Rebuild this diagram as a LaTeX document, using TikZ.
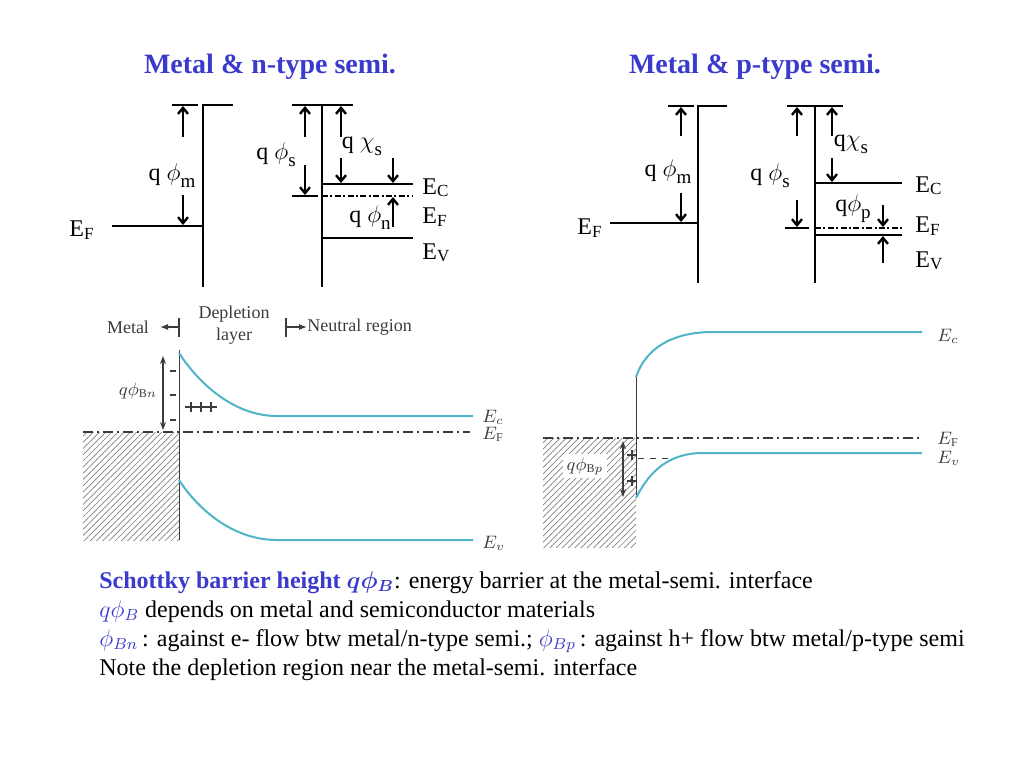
\documentclass[tikz,border=0pt]{standalone}
\usepackage{fontspec}
\setmainfont{Liberation Serif}
\usetikzlibrary{arrows.meta,patterns.meta}
\definecolor{tblue}{RGB}{58,58,205}
\definecolor{bandteal}{RGB}{78,180,200}
\definecolor{dgray}{RGB}{60,60,60}
\newcommand\dsub[1]{\raisebox{-3.5pt}{\fontsize{9.5}{9.5}\selectfont #1}}
\newcommand\Elab[1]{E\raisebox{-1.2pt}{\fontsize{8.5}{8.5}\selectfont #1}}
\begin{document}
\begin{tikzpicture}[x=0.5pt,y=-0.5pt,
  band/.style={line width=1.4pt},
  dashdotband/.style={line width=1.4pt,dash pattern=on 3pt off 1.2pt on 1pt off 1.2pt},
  barr/.style={line width=1.2pt,-{Straight Barb[length=3pt,width=5pt]}},
  lab/.style={font=\fontsize{12}{14}\selectfont,inner sep=0pt},
  title/.style={font=\fontsize{14}{16}\selectfont\bfseries,text=tblue,inner sep=0pt},
  bandcurve/.style={bandteal,line width=1pt},
  efline/.style={dgray,line width=0.6pt,dash pattern=on 5pt off 2pt on 1pt off 2pt},
  iface/.style={dgray,line width=0.5pt},
  darr/.style={dgray,line width=0.6pt,{Stealth[length=4pt,width=3pt]}-{Stealth[length=4pt,width=3pt]}},
  blab/.style={font=\fontsize{9}{11}\selectfont,text=dgray,inner sep=0pt},
  hatch/.style={pattern={Lines[angle=45,distance=2.2pt,line width=0.35pt]},pattern color=gray},
  txt/.style={font=\fontsize{12}{14}\selectfont,anchor=base west,inner sep=0pt}]
\useasboundingbox (0,0) rectangle (1024,768);

% titles
\node[title] (t1) at (270,67) {Metal \& n-type semi.};
\node[title] (t2) at (755,67) {Metal \& p-type semi.};

% ---------- top left: metal & n-type ----------
\draw[band] (233,105) -- (203,105) -- (203,287);
\draw[band] (172,105) -- (198,105);
\draw[band] (112,226) -- (203,226);
\draw[barr] (183,137) -- (183,106);
\draw[barr] (183,195) -- (183,225);
\node[lab] (qphim1) at (172,176) {q $\phi$\dsub{m}};
\node[lab,anchor=west] (ef1) at (69,230) {\Elab{F}};

\draw[band] (322,105) -- (322,287);
\draw[band] (292,105) -- (353,105);
\draw[band] (322,184) -- (413,184);
\draw[dashdotband] (322,196) -- (413,196);
\draw[band] (322,238) -- (413,238);
\draw[band] (292,196) -- (318,196);
\draw[barr] (305,137) -- (305,106);
\draw[barr] (305,165) -- (305,195);
\draw[barr] (341,137) -- (341,106);
\draw[barr] (341,158) -- (341,183);
\draw[barr] (393,158) -- (393,183);
\draw[barr] (393,227) -- (393,197);
\node[lab] (qphis1) at (276,155) {q $\phi$\dsub{s}};
\node[lab] (qchi1) at (362,146) {q $\chi$\dsub{s}};
\node[lab] (qphin1) at (370,218) {q $\phi$\dsub{n}};
\node[lab,anchor=west] (ec1) at (422,188) {\Elab{C}};
\node[lab,anchor=west] (efr1) at (422,217) {\Elab{F}};
\node[lab,anchor=west] (ev1) at (422,253) {\Elab{V}};

% ---------- top right: metal & p-type ----------
\draw[band] (727,106) -- (698,106) -- (698,283);
\draw[band] (668,106) -- (694,106);
\draw[band] (610,223) -- (698,223);
\draw[barr] (681,136) -- (681,107);
\draw[barr] (681,193) -- (681,222);
\node[lab] (qphim2) at (668,172) {q $\phi$\dsub{m}};
\node[lab,anchor=west] (ef2) at (577,228) {\Elab{F}};

\draw[band] (815,106) -- (815,283);
\draw[band] (787,106) -- (843,106);
\draw[band] (815,183) -- (902,183);
\draw[dashdotband] (815,228) -- (902,228);
\draw[band] (815,235) -- (902,235);
\draw[band] (785,228) -- (809,228);
\draw[barr] (797,136) -- (797,107);
\draw[barr] (797,200) -- (797,227);
\draw[barr] (832,136) -- (832,107);
\draw[barr] (832,158) -- (832,182);
\draw[barr] (883,205) -- (883,227);
\draw[barr] (883,263) -- (883,236);
\node[lab] (qphis2) at (770,176) {q $\phi$\dsub{s}};
\node[lab] (qchi2) at (851,144) {q$\chi$\dsub{s}};
\node[lab] (qphip2) at (853,209) {q$\phi$\dsub{p}};
\node[lab,anchor=west] (ec2) at (915,186) {\Elab{C}};
\node[lab,anchor=west] (efr2) at (915,226) {\Elab{F}};
\node[lab,anchor=west] (ev2) at (915,261) {\Elab{V}};

% ---------- bottom left ----------
\fill[hatch] (83,432) rectangle (179,540);
\draw[iface] (179,350) -- (179,540);
\draw[efline] (83,432) -- (470,432);
\draw[bandcurve] (179,353) .. controls (200,385) and (235,416) .. (277,416) -- (473,416);
\draw[bandcurve] (179,480) .. controls (200,512) and (235,540) .. (277,540) -- (473,540);
\draw[darr] (163,356) -- (163,430);
\foreach \yy in {371,395,420} \draw[dgray,line width=0.6pt] (170,\yy) -- (176,\yy);
\draw[dgray,line width=0.6pt] (185,407) -- (217,407);
\foreach \xx in {191,201,211} \draw[dgray,line width=0.6pt] (\xx,402) -- (\xx,412);
\node[blab] (qbn) at (138,391) {$q\phi_{\mathrm{B}n}$};
\node[blab,anchor=west] (ecb1) at (482,417) {$E_c$};
\node[blab,anchor=west] (efb1) at (482,434) {$E_{\mathrm F}$};
\node[blab,anchor=west] (evb1) at (482,543) {$E_v$};

\node[blab] (metal) at (128,327) {Metal};
\draw[dgray,line width=0.6pt] (179,318) -- (179,337);
\draw[dgray,line width=0.6pt,-{Latex[length=4pt,width=3pt]}] (178,327) -- (160,327);
\node[blab,align=center] (depl) at (234,325) {Depletion\\layer};
\draw[dgray,line width=0.6pt] (286,318) -- (286,337);
\draw[dgray,line width=0.6pt,-{Latex[length=4pt,width=3pt]}] (287,327) -- (307,327);
\node[blab,anchor=west] (neutral) at (307,327) {Neutral region};

% ---------- bottom right ----------
\fill[hatch] (543,438) rectangle (636,547);
\node[blab,fill=white,inner sep=2pt] (qbp) at (585,466) {$q\phi_{\mathrm{B}p}$};
\draw[iface] (636,377) -- (636,498);
\draw[efline] (543,438) -- (922,438);
\draw[bandcurve] (636,377) .. controls (645,350) and (670,332) .. (713,332) -- (922,332);
\draw[bandcurve] (636,498) .. controls (650,470) and (670,453) .. (703,453) -- (922,453);
\draw[darr] (623,441) -- (623,497);
\draw[dgray,line width=0.5pt,dashed] (638,458) -- (670,458);
\foreach \yy in {455,481} {\draw[dgray,line width=0.6pt] (627,\yy) -- (637,\yy); \draw[dgray,line width=0.6pt] (632,\yy-5) -- (632,\yy+5);}
\node[blab,anchor=west] (ecb2) at (937,336) {$E_c$};
\node[blab,anchor=west] (efb2) at (937,439) {$E_{\mathrm F}$};
\node[blab,anchor=west] (evb2) at (937,458) {$E_v$};

% ---------- bottom text ----------
\node[txt] (l1) at (99,588) {{\color{tblue}\bfseries Schottky barrier height {\boldmath$q\phi_B$}}: energy barrier at the metal-semi. interface};
\node[txt] (l2) at (99,617) {{\color{tblue}$q\phi_B$} depends on metal and semiconductor materials};
\node[txt] (l3) at (99,646) {{\color{tblue}$\phi_{Bn}$}\,: against e- flow btw metal/n-type semi.; {\color{tblue}$\phi_{Bp}$}\,: against h+ flow btw metal/p-type semi};
\node[txt] (l4) at (99,675) {Note the depletion region near the metal-semi. interface};
\end{tikzpicture}
\end{document}
